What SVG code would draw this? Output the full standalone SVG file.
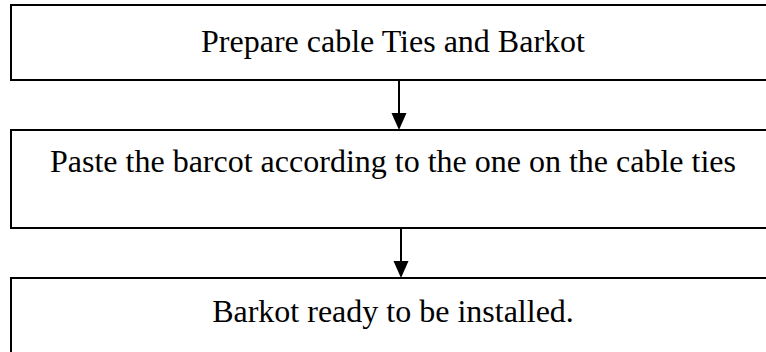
<svg xmlns="http://www.w3.org/2000/svg" width="766" height="352" viewBox="0 0 766 352">
<style>
.box{fill:#fff;stroke:#000;stroke-width:2}
.lbl{font-family:"Liberation Serif","Times New Roman",serif;font-size:32px;fill:#000;text-anchor:middle}
.conn{stroke:#000;stroke-width:2;fill:none}
.head{fill:#000}
</style>
<rect width="766" height="352" fill="#fff"/>
<g id="connectors">
<line class="conn" x1="399" y1="80" x2="399" y2="115"/>
<polygon class="head" points="391.5,113 406.5,113 399,130"/>
<line class="conn" x1="401" y1="228" x2="401" y2="263"/>
<polygon class="head" points="393.5,261 408.5,261 401,278"/>
</g>
<g id="node1">
<rect class="box" x="11" y="5" width="780" height="75"/>
<text class="lbl" x="393" y="52">Prepare cable Ties and Barkot</text>
</g>
<g id="node2">
<rect class="box" x="11" y="130" width="780" height="98"/>
<text class="lbl" x="393" y="172">Paste the barcot according to the one on the cable ties</text>
</g>
<g id="node3">
<rect class="box" x="11" y="278" width="780" height="100"/>
<text class="lbl" x="393" y="322">Barkot ready to be installed.</text>
</g>
</svg>
